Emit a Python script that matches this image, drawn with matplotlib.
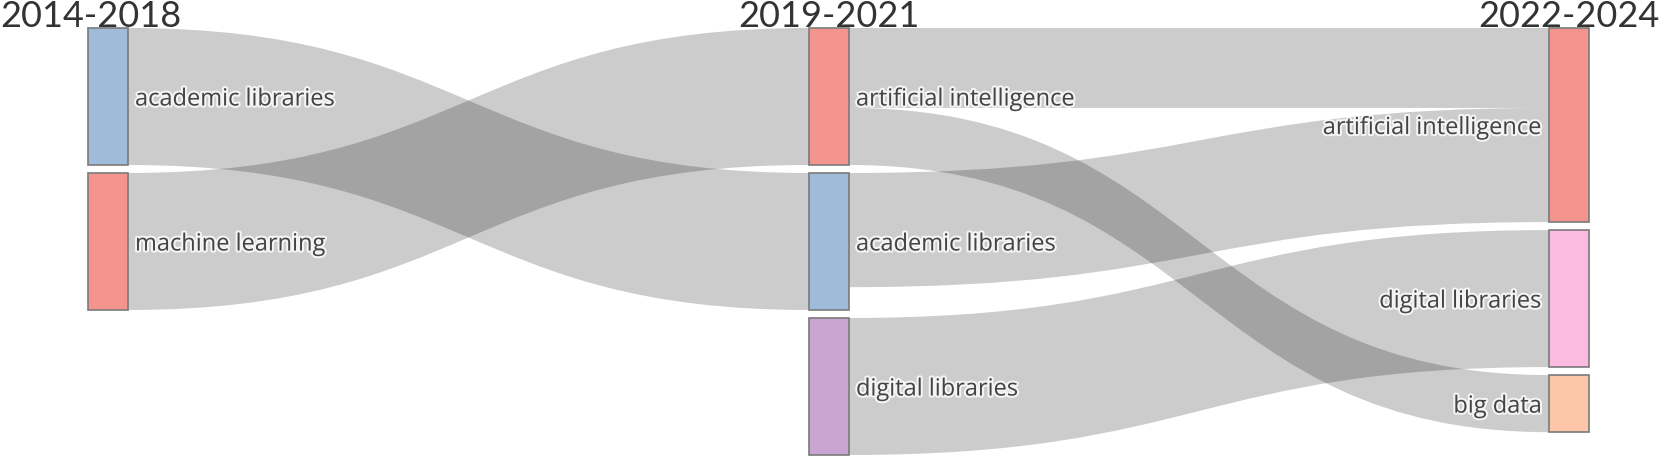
import matplotlib
matplotlib.use("Agg")
import matplotlib.pyplot as plt
from matplotlib.path import Path
from matplotlib.patches import PathPatch, Rectangle
import matplotlib.patheffects as pe

# periods (columns)
periods = ["2014-2018", "2019-2021", "2022-2024"]

# nodes: label, column index, colour
node_labels = ["academic libraries", "machine learning",
               "artificial intelligence", "academic libraries", "digital libraries",
               "artificial intelligence", "digital libraries", "big data"]
node_cols = [0, 0, 1, 1, 1, 2, 2, 2]
node_colors = ["#9ebbd9", "#f4948f",
               "#f4948f", "#9ebbd9", "#c9a5d1",
               "#f4948f", "#fbbbe0", "#fec6a8"]

# links
src = [0, 1, 2, 2, 3, 4]
tgt = [3, 2, 5, 7, 5, 6]
val = [12, 12, 7, 5, 10, 12]

W, H = 1665, 458
col_x = [88, 809, 1549]
node_w = 40
top = 28
pad = 8
bottom = 455

fig = plt.figure(figsize=(W / 100, H / 100), dpi=100)
ax = fig.add_axes([0, 0, 1, 1])
ax.set_xlim(0, W)
ax.set_ylim(H, 0)
ax.axis("off")

n = len(node_labels)
inflow = [0] * n
outflow = [0] * n
for s, t, v in zip(src, tgt, val):
    outflow[s] += v
    inflow[t] += v
nval = [max(a, b) for a, b in zip(inflow, outflow)]

# scale from the tallest column
col_tot = {}
col_cnt = {}
for i, c in enumerate(node_cols):
    col_tot[c] = col_tot.get(c, 0) + nval[i]
    col_cnt[c] = col_cnt.get(c, 0) + 1
scale = min((bottom - top - pad * (col_cnt[c] - 1)) / col_tot[c] for c in col_tot)

ny0 = [0] * n
ny1 = [0] * n
cur = {}
for i, c in enumerate(node_cols):
    y = cur.get(c, top)
    ny0[i] = y
    ny1[i] = y + nval[i] * scale
    cur[c] = ny1[i] + pad

# link offsets
order = sorted(range(len(src)), key=lambda k: (src[k], ny0[tgt[k]]))
out_off = {}
so = [0] * n
for k in order:
    out_off[k] = ny0[src[k]] + so[src[k]]
    so[src[k]] += val[k] * scale
order = sorted(range(len(src)), key=lambda k: (tgt[k], ny0[src[k]]))
in_off = {}
ti = [0] * n
for k in order:
    in_off[k] = ny0[tgt[k]] + ti[tgt[k]]
    ti[tgt[k]] += val[k] * scale

for k in range(len(src)):
    x0 = col_x[node_cols[src[k]]] + node_w
    x1 = col_x[node_cols[tgt[k]]]
    xm = (x0 + x1) / 2
    h = val[k] * scale
    a0, b0 = out_off[k], in_off[k]
    a1, b1 = a0 + h, b0 + h
    verts = [(x0, a0), (xm, a0), (xm, b0), (x1, b0),
             (x1, b1), (xm, b1), (xm, a1), (x0, a1), (x0, a0)]
    codes = [Path.MOVETO, Path.CURVE4, Path.CURVE4, Path.CURVE4,
             Path.LINETO, Path.CURVE4, Path.CURVE4, Path.CURVE4, Path.CLOSEPOLY]
    ax.add_patch(PathPatch(Path(verts, codes), facecolor=(0, 0, 0, 0.2),
                           edgecolor="none", lw=0))

halo = [pe.withStroke(linewidth=3, foreground=(1, 1, 1, 0.8))]
for i in range(n):
    c = node_cols[i]
    x = col_x[c]
    ax.add_patch(Rectangle((x, ny0[i]), node_w, ny1[i] - ny0[i],
                           facecolor=node_colors[i], edgecolor="#7a7a7a", lw=1.2))
    ym = (ny0[i] + ny1[i]) / 2
    if c < 2:
        ax.text(x + node_w + 7, ym, node_labels[i], ha="left", va="center_baseline",
                fontsize=17, family="Open Sans", color="#444444", path_effects=halo)
    else:
        ax.text(x - 7, ym, node_labels[i], ha="right", va="center_baseline",
                fontsize=17, family="Open Sans", color="#444444", path_effects=halo)

for c, p in enumerate(periods):
    cx = col_x[c] + node_w / 2
    if c == 0:
        ax.text(0, 27, p, ha="left", va="baseline", fontsize=26,
                family="Lato", color="#333333")
    else:
        ax.text(cx, 27, p, ha="center", va="baseline", fontsize=26,
                family="Lato", color="#333333")

fig.savefig("out.png", dpi=100)
